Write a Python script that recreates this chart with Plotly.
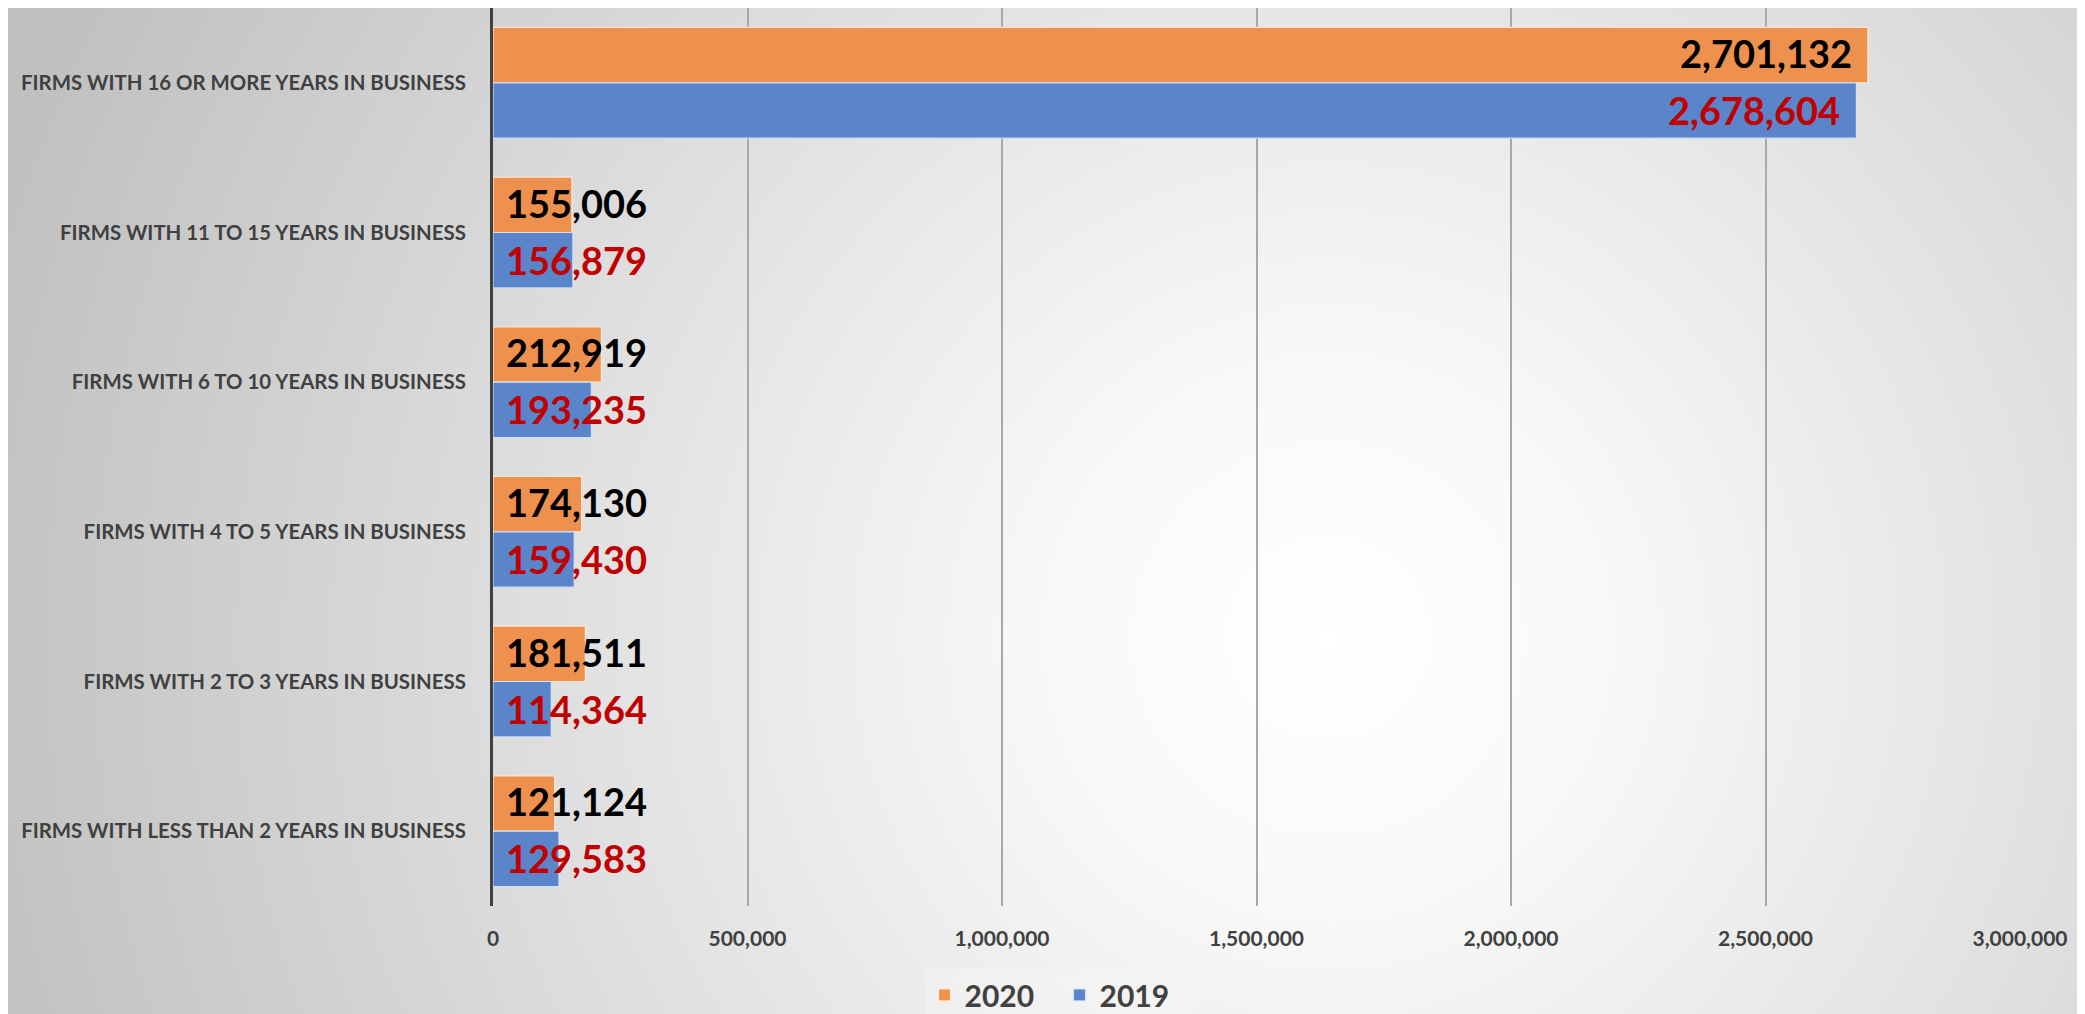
import base64
import plotly.graph_objects as go

categories = [
    "FIRMS WITH 16 OR MORE YEARS IN BUSINESS",
    "FIRMS WITH 11 TO 15 YEARS IN BUSINESS",
    "FIRMS WITH 6 TO 10 YEARS IN BUSINESS",
    "FIRMS WITH 4 TO 5 YEARS IN BUSINESS",
    "FIRMS WITH 2 TO 3 YEARS IN BUSINESS",
    "FIRMS WITH LESS THAN 2 YEARS IN BUSINESS",
]
values_2020 = [2701132, 155006, 212919, 174130, 181511, 121124]
values_2019 = [2678604, 156879, 193235, 159430, 114364, 129583]
tick_vals = [0, 500000, 1000000, 1500000, 2000000, 2500000, 3000000]
tick_text = ["0", "500,000", "1,000,000", "1,500,000", "2,000,000", "2,500,000", "3,000,000"]

# page has an 8px body margin; size the figure to fit inside the window
W, H = 2077, 1006
ML, MR, MT, MB = 485, 65, 0, 108
PW, PH = W - ML - MR, H - MT - MB

FONT = "Lato, 'Open Sans', sans-serif"

svg = (
    f'<svg xmlns="http://www.w3.org/2000/svg" width="{W}" height="{H}" viewBox="0 0 {W} {H}" '
    f'preserveAspectRatio="none"><defs><radialGradient id="g" gradientUnits="userSpaceOnUse" '
    f'cx="1320" cy="630" r="1400"><stop offset="0" stop-color="#ffffff"/>'
    f'<stop offset="0.2" stop-color="#f8f8f8"/><stop offset="1" stop-color="#c0c0c0"/>'
    f'</radialGradient></defs><rect width="{W}" height="{H}" fill="url(#g)"/></svg>'
)
bg_src = "data:image/svg+xml;base64," + base64.b64encode(svg.encode()).decode()

fig = go.Figure()
fig.add_trace(go.Bar(
    name="2020", y=categories, x=values_2020, orientation="h",
    marker=dict(color="#EE914F", line=dict(color="rgba(255,235,215,0.9)", width=1.2)),
    hoverinfo="x+y",
))
fig.add_trace(go.Bar(
    name="2019", y=categories, x=values_2019, orientation="h",
    marker=dict(color="#5B85CB", line=dict(color="rgba(215,228,250,0.9)", width=1.2)),
    hoverinfo="x+y",
))

annotations = []
for series, shift, color in ((values_2020, 30, "#000000"), (values_2019, -27, "#C00000")):
    for cat, v in zip(categories, series):
        big = v > 1000000
        annotations.append(dict(
            x=v if big else 0, y=cat, xref="x", yref="y",
            text=f"{v:,}", showarrow=False,
            xanchor="right" if big else "left", yanchor="middle",
            xshift=-14 if big else 11, yshift=shift,
            font=dict(family=FONT, size=38, color=color, weight="bold"),
        ))

fig.update_layout(
    width=W, height=H,
    margin=dict(l=ML, r=MR, t=MT, b=MB, autoexpand=False),
    paper_bgcolor="rgba(0,0,0,0)", plot_bgcolor="rgba(0,0,0,0)",
    barmode="group", bargap=0.26, bargroupgap=0,
    font=dict(family=FONT, color="#404040"),
    images=[dict(
        source=bg_src, xref="paper", yref="paper",
        x=-ML / PW, y=1 + MT / PH, sizex=W / PW, sizey=H / PH,
        xanchor="left", yanchor="top", sizing="stretch", layer="below",
    )],
    xaxis=dict(
        range=[0, 3000000], tickvals=tick_vals, ticktext=tick_text,
        showgrid=True, gridcolor="#a8a8a8", gridwidth=1.5, zeroline=False,
        showline=False, ticks="", ticklabelstandoff=18,
        tickfont=dict(family=FONT, size=21, color="#404040", weight="bold"),
    ),
    yaxis=dict(
        categoryorder="array", categoryarray=categories, autorange="reversed",
        showline=True, linecolor="#404040", linewidth=3, showgrid=False,
        ticks="", ticklabelstandoff=20,
        tickfont=dict(family=FONT, size=20.4, color="#404040", weight="bold"),
    ),
    legend=dict(
        orientation="h", x=0.371, y=-0.099, xanchor="center", yanchor="middle",
        bgcolor="rgba(246,246,246,0.45)", borderwidth=0,
        entrywidth=90, entrywidthmode="pixels",
        font=dict(family=FONT, size=30, color="#404040", weight="bold"),
        traceorder="normal",
    ),
    annotations=annotations,
    showlegend=True,
)

fig.write_html("out.html")
